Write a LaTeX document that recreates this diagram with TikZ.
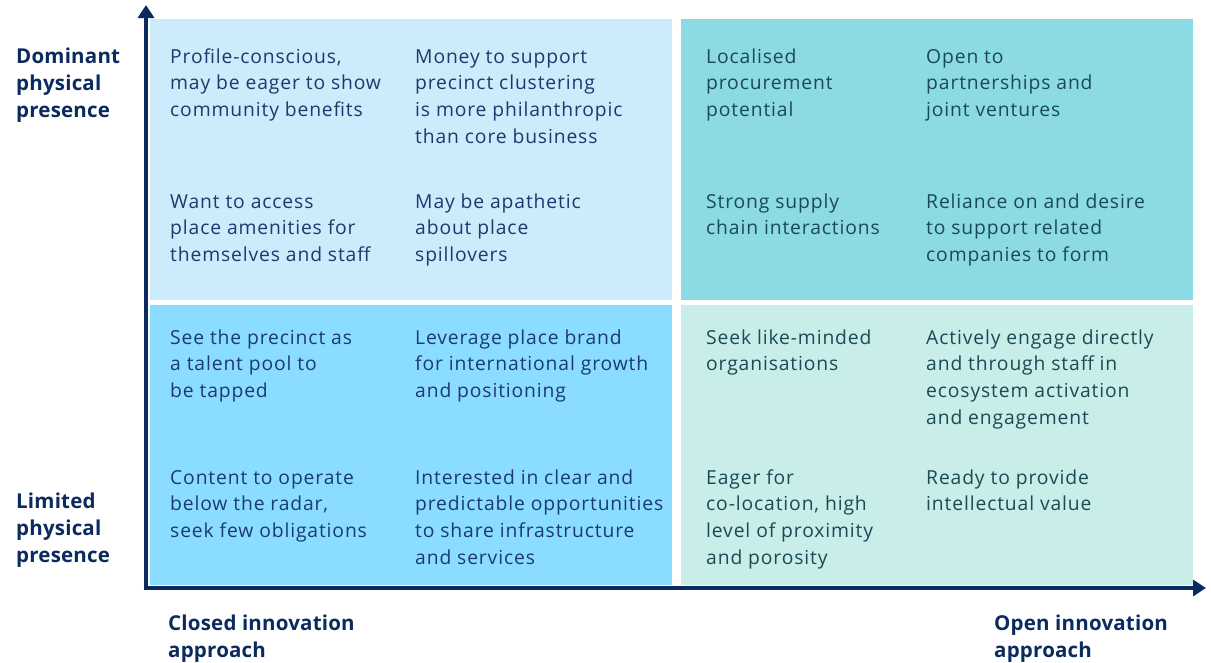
\documentclass[tikz,border=0pt]{standalone}
\usepackage{fontspec}
\setmainfont{Open Sans}
\newfontfamily\itemfont{Open Sans}[LetterSpace=4.5]
\newfontfamily\axisfont{Open Sans}[LetterSpace=1]
\usetikzlibrary{arrows.meta}
\definecolor{navy}{HTML}{0B2A5E}
\definecolor{txtnavy}{HTML}{1B3A6E}
\definecolor{txtteal}{HTML}{1A4A54}
\definecolor{qtl}{HTML}{CCEBFB}
\definecolor{qbl}{HTML}{8ADDFE}
\definecolor{qtr}{HTML}{8BDAE4}
\definecolor{qbr}{HTML}{C9EDE9}
\newcommand{\topstrut}{\rule{0pt}{18pt}}
\begin{document}
\begin{tikzpicture}[x=1pt,y=-1pt,
  item/.style={anchor=north west,inner sep=0pt,align=left,
    font=\itemfont\fontsize{19.3}{26.7}\selectfont},
  itemL/.style={item,text=txtnavy},
  itemR/.style={item,text=txtteal},
  axlabel/.style={anchor=north west,inner sep=0pt,align=left,text=navy,
    font=\axisfont\fontsize{20.5}{27}\selectfont\bfseries},
  axis/.style={draw=navy,line width=4.5pt,-{Triangle[length=13pt,width=16pt]}}]
\useasboundingbox (0,0) rectangle (1211,662);
% quadrants
\fill[qtl] (150,19) rectangle (672,300);
\fill[qtr] (681,19) rectangle (1193,300);
\fill[qbl] (150,305) rectangle (672,585);
\fill[qbr] (681,305) rectangle (1193,585);
% axes
\coordinate (origin) at (146,588);
\coordinate (ytip) at (146,5);
\coordinate (xtip) at (1206,588);
\draw[axis] ([yshift=2.25pt]origin) -- (ytip);
\draw[axis] ([xshift=-2.25pt]origin) -- (xtip);
% axis labels
\node[axlabel] (ytop) at (16,45) {\topstrut Dominant\\physical\\presence};
\node[axlabel] (ybot) at (16,490) {\topstrut Limited\\physical\\presence};
\node[axlabel] (xleft) at (168,612) {\topstrut Closed innovation\\approach};
\node[axlabel] (xright) at (994,612) {\topstrut Open innovation\\approach};
% top left quadrant
\node[itemL] (a1) at (170,45) {\topstrut Profile-conscious,\\may be eager to show\\community benefits};
\node[itemL] (a2) at (415,45) {\topstrut Money to support\\precinct clustering\\is more philanthropic\\than core business};
\node[itemL] (a3) at (170,190) {\topstrut Want to access\\place amenities for\\themselves and staff};
\node[itemL] (a4) at (415,190) {\topstrut May be apathetic\\about place\\spillovers};
% top right quadrant
\node[itemR] (b1) at (706,45) {\topstrut Localised\\procurement\\potential};
\node[itemR] (b2) at (926,45) {\topstrut Open to\\partnerships and\\joint ventures};
\node[itemR] (b3) at (706,190) {\topstrut Strong supply\\chain interactions};
\node[itemR] (b4) at (926,190) {\topstrut Reliance on and desire\\to support related\\companies to form};
% bottom left quadrant
\node[itemL] (c1) at (170,326) {\topstrut See the precinct as\\a talent pool to\\be tapped};
\node[itemL] (c2) at (415,326) {\topstrut Leverage place brand\\for international growth\\and positioning};
\node[itemL] (c3) at (170,466) {\topstrut Content to operate\\below the radar,\\seek few obligations};
\node[itemL] (c4) at (415,466) {\topstrut Interested in clear and\\predictable opportunities\\to share infrastructure\\and services};
% bottom right quadrant
\node[itemR] (d1) at (706,326) {\topstrut Seek like-minded\\organisations};
\node[itemR] (d2) at (926,326) {\topstrut Actively engage directly\\and through staff in\\ecosystem activation\\and engagement};
\node[itemR] (d3) at (706,466) {\topstrut Eager for\\co-location, high\\level of proximity\\and porosity};
\node[itemR] (d4) at (926,466) {\topstrut Ready to provide\\intellectual value};
\end{tikzpicture}
\end{document}
